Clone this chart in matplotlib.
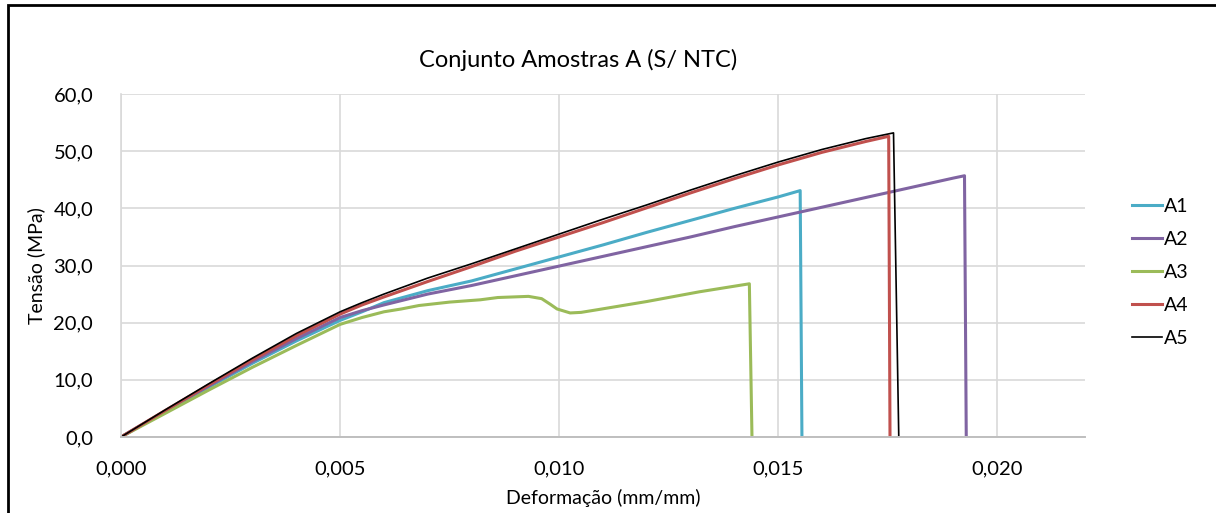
import matplotlib
matplotlib.use("Agg")
import matplotlib.pyplot as plt
from matplotlib.patches import Rectangle

plt.rcParams['font.family'] = ['Lato', 'DejaVu Sans']

# Data (strain mm/mm, stress MPa)
a1_x = [0.0, 0.001, 0.002, 0.003, 0.004, 0.005, 0.0055, 0.006, 0.007, 0.008, 0.009, 0.010,
        0.011, 0.012, 0.013, 0.014, 0.015, 0.0155, 0.01554]
a1_y = [0.0, 4.4, 8.7, 12.9, 16.8, 20.4, 21.9, 23.5, 25.6, 27.3, 29.4, 31.5,
        33.6, 35.8, 37.9, 40.0, 42.0, 43.1, 0.0]

a2_x = [0.0, 0.001, 0.002, 0.003, 0.004, 0.005, 0.0055, 0.006, 0.007, 0.008, 0.009, 0.010,
        0.011, 0.012, 0.013, 0.014, 0.015, 0.016, 0.017, 0.018, 0.019, 0.01925, 0.01929]
a2_y = [0.0, 4.5, 8.9, 13.2, 17.2, 20.9, 22.1, 23.1, 25.0, 26.5, 28.2, 29.9,
        31.6, 33.3, 35.0, 36.8, 38.5, 40.2, 41.9, 43.6, 45.3, 45.7, 0.0]

a3_x = [0.0, 0.001, 0.002, 0.003, 0.004, 0.005, 0.0055, 0.006, 0.0064, 0.0068, 0.0075, 0.0082,
        0.0086, 0.0093, 0.0096, 0.0098, 0.00995, 0.01025, 0.0105, 0.0109, 0.012, 0.0132,
        0.01434, 0.0144]
a3_y = [0.0, 4.1, 8.2, 12.2, 16.0, 19.7, 20.9, 21.9, 22.4, 23.0, 23.6, 24.0,
        24.4, 24.6, 24.2, 23.2, 22.4, 21.7, 21.8, 22.3, 23.7, 25.4,
        26.8, 0.0]

a4_x = [0.0, 0.001, 0.002, 0.003, 0.004, 0.005, 0.0055, 0.006, 0.007, 0.008, 0.009, 0.010,
        0.011, 0.012, 0.013, 0.014, 0.015, 0.016, 0.017, 0.01752, 0.01755]
a4_y = [0.0, 4.6, 9.1, 13.5, 17.7, 21.5, 23.1, 24.5, 27.2, 29.8, 32.5, 35.0,
        37.5, 40.1, 42.7, 45.2, 47.6, 49.8, 51.7, 52.6, 0.0]

a5_x = [0.0, 0.001, 0.002, 0.003, 0.004, 0.005, 0.0055, 0.006, 0.007, 0.008, 0.009, 0.010,
        0.011, 0.012, 0.013, 0.014, 0.015, 0.016, 0.017, 0.01763, 0.01775]
a5_y = [0.0, 4.7, 9.3, 13.8, 18.1, 21.9, 23.5, 25.0, 27.8, 30.3, 32.9, 35.5,
        38.1, 40.6, 43.2, 45.7, 48.1, 50.3, 52.2, 53.2, 0.0]

series = [
    ("A1", a1_x, a1_y, "#4BACC6", 2.2),
    ("A2", a2_x, a2_y, "#8064A2", 2.2),
    ("A3", a3_x, a3_y, "#9BBB59", 2.2),
    ("A4", a4_x, a4_y, "#C0504D", 2.2),
    ("A5", a5_x, a5_y, "#000000", 1.2),
]

x_ticks = [0.000, 0.005, 0.010, 0.015, 0.020]
y_ticks = [0, 10, 20, 30, 40, 50, 60]

W, H = 1216, 513
fig = plt.figure(figsize=(W / 100, H / 100), dpi=100)
ax = fig.add_axes([121 / W, 1 - 437 / H, (1085 - 121) / W, (437 - 94) / H])

for name, xs, ys, col, lw in series:
    ax.plot(xs, ys, color=col, lw=lw, label=name, solid_joinstyle='round')

ax.set_xlim(0, 0.022)
ax.set_ylim(0, 60)
ax.set_xticks(x_ticks)
ax.set_yticks(y_ticks)
ax.set_xticklabels([f"{v:.3f}".replace('.', ',') for v in x_ticks])
ax.set_yticklabels([f"{v:.1f}".replace('.', ',') for v in y_ticks])
ax.tick_params(length=0, labelsize=14.5, colors='#000000')
ax.tick_params(axis='x', pad=17)
ax.tick_params(axis='y', pad=20)
ax.grid(True, color='#D9D9D9', lw=1.2)
ax.set_axisbelow(True)
for s in ['top', 'right']:
    ax.spines[s].set_visible(False)
ax.spines['left'].set_color('#D9D9D9')
ax.spines['left'].set_linewidth(1.2)
ax.spines['bottom'].set_color('#BFBFBF')
ax.spines['bottom'].set_linewidth(1.4)

ax.set_xlabel("Deformação (mm/mm)", fontsize=14, labelpad=8)
ax.set_ylabel("Tensão (MPa)", fontsize=14, labelpad=6)

fig.text(578 / W, 1 - 60 / H, "Conjunto Amostras A (S/ NTC)", ha='center', va='center', fontsize=17)

# legend
leg = ax.legend(loc='upper left', bbox_to_anchor=(1124 / W, 1 - 190 / H), bbox_transform=fig.transFigure,
                frameon=False, fontsize=14, handlelength=1.55, handletextpad=0.08, labelspacing=0.82,
                borderaxespad=0)

# chart border
fig.patches.append(Rectangle((8 / W, -0.1), 1.2, 1 - 5 / H + 0.1, transform=fig.transFigure,
                             fill=False, edgecolor='black', lw=2.0))

fig.savefig("out.png", dpi=100)
